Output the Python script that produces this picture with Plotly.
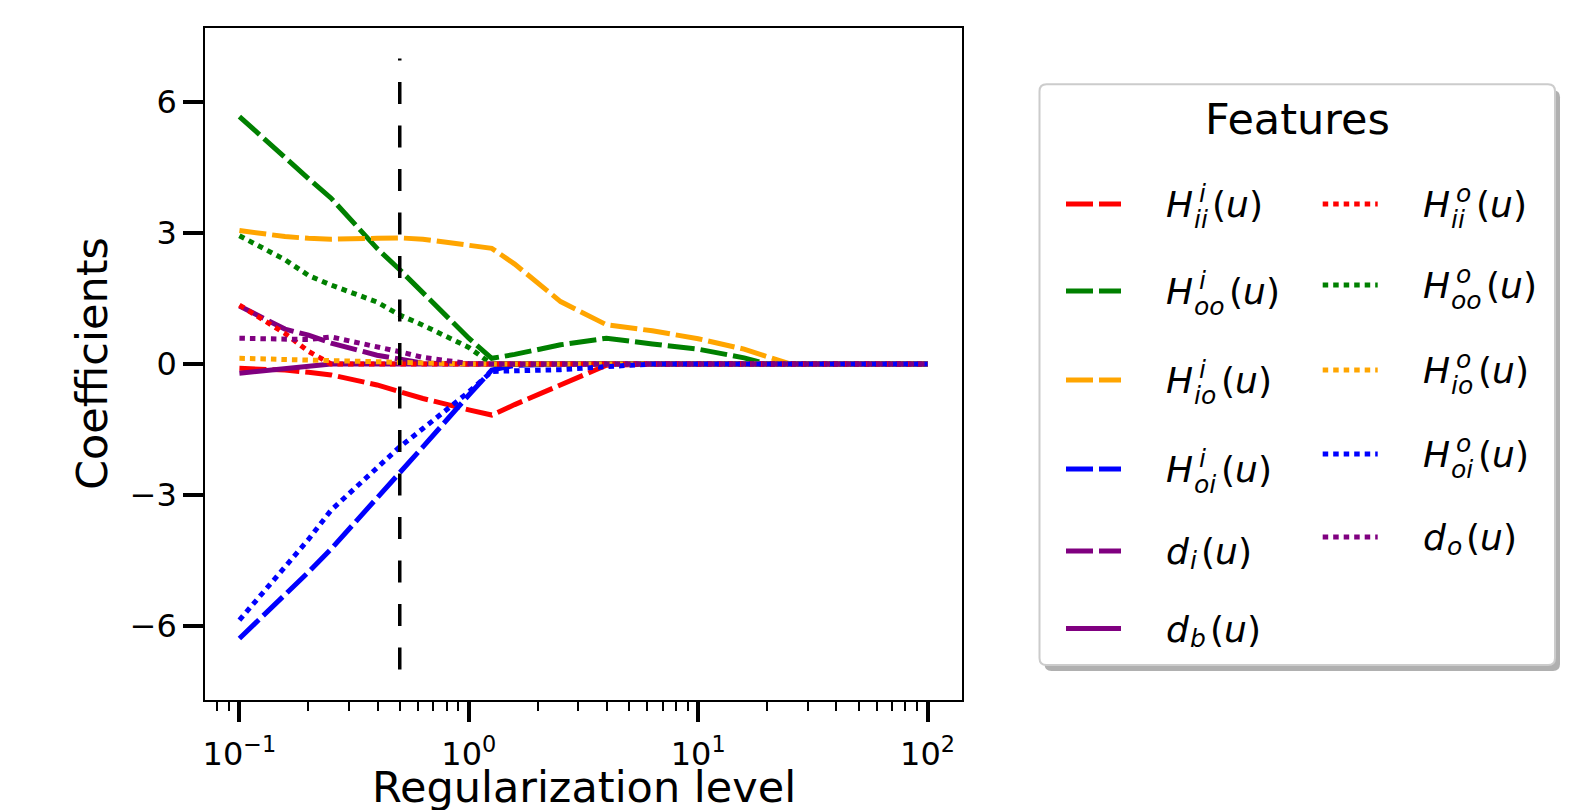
import plotly.graph_objects as go

# ---------------- data ----------------
x_vals = [0.1, 0.158, 0.2, 0.251, 0.398, 0.5, 0.631, 1.0, 1.259, 1.585,
          2.512, 3.981, 6.31, 10.0, 15.85, 19.95, 25.12, 39.81, 63.1, 100.0]

H_ii_i = [-0.10, -0.14, -0.19, -0.25, -0.48, -0.63, -0.79, -1.05, -1.17, -0.93,
          -0.48, -0.03, 0, 0, 0, 0, 0, 0, 0, 0]
H_oo_i = [5.67, 4.72, 4.25, 3.80, 2.65, 2.16, 1.62, 0.59, 0.13, 0.22,
          0.44, 0.59, 0.46, 0.34, 0.14, 0.0, 0, 0, 0, 0]
H_io_i = [3.06, 2.92, 2.88, 2.86, 2.88, 2.89, 2.86, 2.73, 2.65, 2.29,
          1.43, 0.90, 0.76, 0.58, 0.34, 0.17, 0.0, 0, 0, 0]
H_oi_i = [-6.29, -5.31, -4.77, -4.24, -3.08, -2.51, -1.90, -0.71, -0.14, -0.03,
          0, 0, 0, 0, 0, 0, 0, 0, 0, 0]
d_i = [1.33, 0.80, 0.66, 0.48, 0.20, 0.10, 0.02, 0, 0, 0,
       0, 0, 0, 0, 0, 0, 0, 0, 0, 0]
d_b = [-0.21, -0.11, -0.03, 0, 0, 0, 0, 0, 0, 0,
       0, 0, 0, 0, 0, 0, 0, 0, 0, 0]
H_ii_o = [1.35, 0.70, 0.29, 0, 0, 0, 0, 0, 0, 0,
          0, 0, 0, 0, 0, 0, 0, 0, 0, 0]
H_oo_o = [2.94, 2.39, 2.03, 1.81, 1.42, 1.12, 0.89, 0.38, 0, 0,
          0, 0, 0, 0, 0, 0, 0, 0, 0, 0]
H_io_o = [0.13, 0.11, 0.10, 0.08, 0.05, 0.04, 0.025, 0, 0, 0,
          0, 0, 0, 0, 0, 0, 0, 0, 0, 0]
H_oi_o = [-5.87, -4.66, -4.02, -3.35, -2.36, -1.90, -1.48, -0.64, -0.17, -0.15,
          -0.13, -0.06, 0, 0, 0, 0, 0, 0, 0, 0]
d_o = [0.59, 0.56, 0.56, 0.62, 0.41, 0.28, 0.15, 0.01, 0, 0,
       0, 0, 0, 0, 0, 0, 0, 0, 0, 0]

chosen_level = [0.5, 0.5]
chosen_span = [-7, 7]

x_tickvals = [0.1, 1, 10, 100]
x_ticktext = ["10<sup>\u22121</sup>", "10<sup>0</sup>", "10<sup>1</sup>", "10<sup>2</sup>"]
x_minor = [0.08, 0.09, 0.2, 0.3, 0.4, 0.5, 0.6, 0.7, 0.8, 0.9,
           2, 3, 4, 5, 6, 7, 8, 9, 20, 30, 40, 50, 60, 70, 80, 90]
y_tickvals = [-6, -3, 0, 3, 6]
y_ticktext = ["\u22126", "\u22123", "0", "3", "6"]

# ---------------- styles ----------------
RED, GREEN, ORANGE, BLUE, PURPLE = "#ff0000", "#008000", "#ffa500", "#0000ff", "#800080"
DASH = "27px,6px"
DOT = "5.5px,5px"
FONT = "DejaVu Sans"

# (values, colour, dash, base, sub, sup, column)
series = [
    (H_ii_i, RED, DASH, "H", "ii", "i", 0),
    (H_oo_i, GREEN, DASH, "H", "oo", "i", 0),
    (H_io_i, ORANGE, DASH, "H", "io", "i", 0),
    (H_oi_i, BLUE, DASH, "H", "oi", "i", 0),
    (d_i, PURPLE, DASH, "d", "i", None, 0),
    (d_b, PURPLE, "solid", "d", "b", None, 0),
    (H_ii_o, RED, DOT, "H", "ii", "o", 1),
    (H_oo_o, GREEN, DOT, "H", "oo", "o", 1),
    (H_io_o, ORANGE, DOT, "H", "io", "o", 1),
    (H_oi_o, BLUE, DOT, "H", "oi", "o", 1),
    (d_o, PURPLE, DOT, "d", "o", None, 1),
]

fig = go.Figure()
for vals, col, dash, base, sub, sup, c in series:
    fig.add_trace(go.Scatter(x=x_vals, y=vals, mode="lines",
                             line=dict(color=col, width=5, dash=dash),
                             showlegend=False, hoverinfo="skip"))

fig.add_trace(go.Scatter(x=chosen_level, y=chosen_span, mode="lines",
                         line=dict(color="black", width=3.5, dash="22px,21.5px"),
                         showlegend=False, hoverinfo="skip"))

# ---------------- layout geometry (pixels in the final page) ----------------
OFF = 8                      # the page body margin
W, H = 1578 - OFF, 810 - OFF
PL, PR, PT, PB = 205, 962, 28, 700   # plot frame in page pixels


def px(xp):
    return (xp - PL) / (PR - PL)


def py(yp):
    return (PB - yp) / (PB - PT)


shapes = []
annotations = []


def rounded_rect(x0, y0, x1, y1, r):
    rx = r / (PR - PL)
    ry = r / (PB - PT)
    X0, X1 = px(x0), px(x1)
    Yt, Yb = py(y0), py(y1)
    return (f"M {X0+rx},{Yt} L {X1-rx},{Yt} Q {X1},{Yt} {X1},{Yt-ry} "
            f"L {X1},{Yb+ry} Q {X1},{Yb} {X1-rx},{Yb} L {X0+rx},{Yb} "
            f"Q {X0},{Yb} {X0},{Yb+ry} L {X0},{Yt-ry} Q {X0},{Yt} {X0+rx},{Yt} Z")


# legend box: shadow + frame
LX0, LY0, LX1, LY1 = 1039.5, 84.3, 1555, 665
shapes.append(dict(type="path", xref="paper", yref="paper",
                   path=rounded_rect(LX0 + 5, LY0 + 6, LX1 + 5, LY1 + 6, 7),
                   fillcolor="#b0b0b0", line=dict(width=0), layer="above"))
shapes.append(dict(type="path", xref="paper", yref="paper",
                   path=rounded_rect(LX0, LY0, LX1, LY1, 7),
                   fillcolor="white", line=dict(color="#cccccc", width=2), layer="above"))

annotations.append(dict(x=px(1297.5), y=py(119.4), xref="paper", yref="paper",
                        text="Features", showarrow=False, xanchor="center", yanchor="middle",
                        font=dict(family=FONT, size=43, color="black")))

col_sample_x = [(1066, 1121), (1322.7, 1377.7)]
col_label_x = [1165, 1421.7]
col_rows = [[204, 291, 380, 469, 551, 628.5], [204, 285, 370, 454, 537]]

EM = {"i": 0.278, "o": 0.612, "b": 0.635, "d": 0.635, "H": 0.752}
MAIN, SCRIPT = 36, 25

row_counter = [0, 0]
for vals, col, dash, base, sub, sup, c in series:
    r = row_counter[c]
    row_counter[c] += 1
    ly = col_rows[c][r]
    sx0, sx1 = col_sample_x[c]
    shapes.append(dict(type="line", xref="paper", yref="paper",
                       x0=px(sx0), x1=px(sx1), y0=py(ly), y1=py(ly),
                       line=dict(color=col, width=5, dash=dash), layer="above"))
    x0 = col_label_x[c]
    B = ly + 13
    main_w = EM[base] * MAIN
    annotations.append(dict(x=px(x0), y=py(B - 12.5), xref="paper", yref="paper",
                            text=f"<i>{base}</i>", showarrow=False, xanchor="left",
                            yanchor="middle", borderpad=0,
                            font=dict(family=FONT, size=MAIN, color="black")))
    sub_x = x0 + main_w + 1
    sub_w = sum(EM[ch] for ch in sub) * SCRIPT
    end_x = sub_x + sub_w
    if sup:
        sub_y = B + 11 - 8.65
        sup_x = x0 + 33
        sup_w = sum(EM[ch] for ch in sup) * SCRIPT
        end_x = max(end_x, sup_x + sup_w)
        annotations.append(dict(x=px(sup_x), y=py(B - 14.7 - 8.65), xref="paper", yref="paper",
                                text=f"<i>{sup}</i>", showarrow=False, xanchor="left",
                                yanchor="middle", borderpad=0,
                                font=dict(family=FONT, size=SCRIPT, color="black")))
    else:
        sub_y = B + 5.5 - 8.65
    annotations.append(dict(x=px(sub_x), y=py(sub_y), xref="paper", yref="paper",
                            text=f"<i>{sub}</i>", showarrow=False, xanchor="left",
                            yanchor="middle", borderpad=0,
                            font=dict(family=FONT, size=SCRIPT, color="black")))
    annotations.append(dict(x=px(end_x + 4.5), y=py(B - 12.5), xref="paper", yref="paper",
                            text="(<i>u</i>)", showarrow=False, xanchor="left",
                            yanchor="middle", borderpad=0,
                            font=dict(family=FONT, size=MAIN, color="black")))

# axis titles
annotations.append(dict(x=px(584), y=py(787), xref="paper", yref="paper",
                        text="Regularization level", showarrow=False,
                        xanchor="center", yanchor="middle",
                        font=dict(family=FONT, size=43, color="black")))
annotations.append(dict(x=px(92), y=py(364), xref="paper", yref="paper",
                        text="Coefficients", showarrow=False, textangle=-90,
                        xanchor="center", yanchor="middle",
                        font=dict(family=FONT, size=43, color="black")))

fig.update_layout(
    width=W, height=H, autosize=False,
    margin=dict(l=PL - OFF, r=W - (PR - OFF), t=PT - OFF, b=H - (PB - OFF)),
    paper_bgcolor="white", plot_bgcolor="white",
    shapes=shapes, annotations=annotations,
    font=dict(family=FONT, color="black"),
)
fig.update_xaxes(type="log", range=[-1.15, 2.15],
                 tickvals=x_tickvals, ticktext=x_ticktext,
                 ticks="outside", ticklen=20, tickwidth=3.5, tickcolor="black",
                 ticklabelstandoff=5,
                 tickfont=dict(family=FONT, size=32, color="black"),
                 minor=dict(tickvals=x_minor, ticks="outside", ticklen=9,
                            tickwidth=2, tickcolor="black"),
                 showgrid=False, zeroline=False,
                 showline=True, linecolor="black", linewidth=1.6, mirror=True)
fig.update_yaxes(range=[-7.7, 7.7],
                 tickvals=y_tickvals, ticktext=y_ticktext,
                 ticks="outside", ticklen=20, tickwidth=3.5, tickcolor="black",
                 tickfont=dict(family=FONT, size=32, color="black"),
                 showgrid=False, zeroline=False,
                 showline=True, linecolor="black", linewidth=1.6, mirror=True)

fig.write_html("out.html")
